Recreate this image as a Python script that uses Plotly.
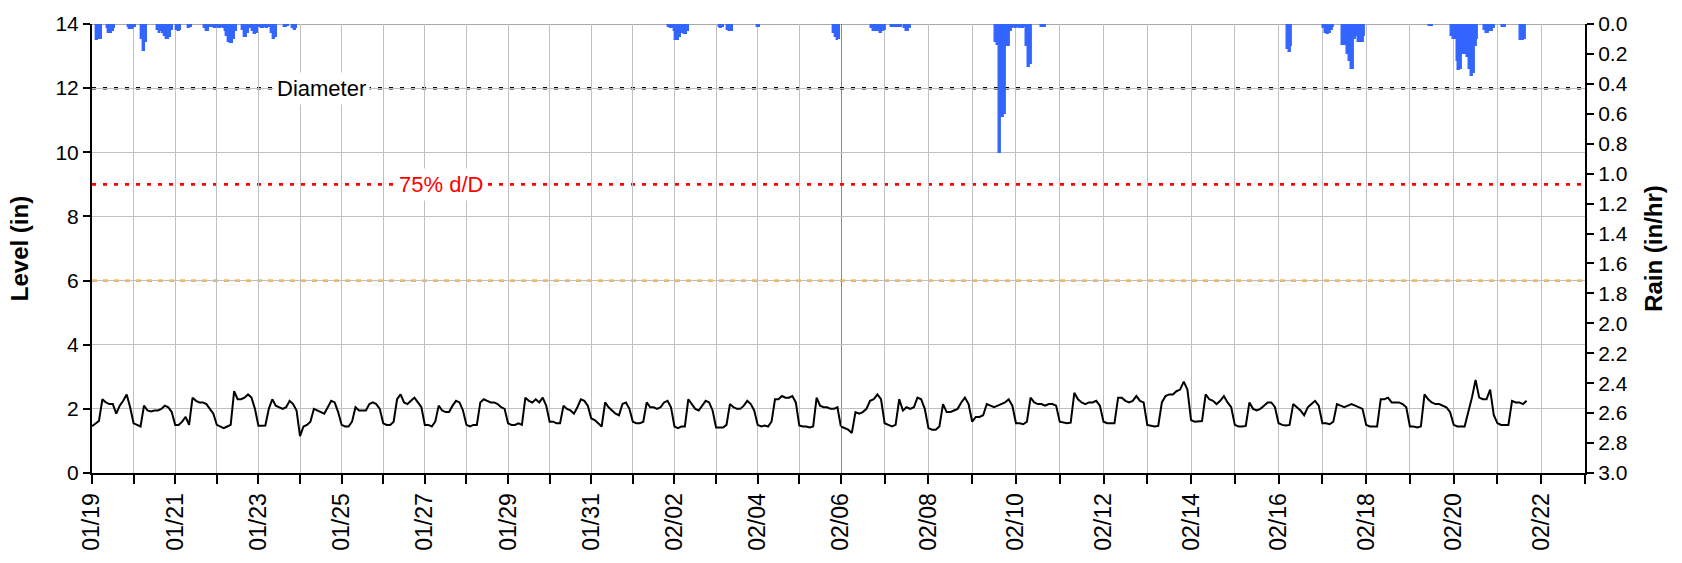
import pandas as pd
import plotly.graph_objects as go

START = "2024-01-19"
SPLIT = "2024-02-06"
END = "2024-02-23"

# Level (in), readings every 2 hours starting 01/19 00:00 (12 per day)
level_in = [
    1.46, 1.55, 1.62, 2.30, 2.20, 2.15, 2.15, 1.85, 2.10, 2.25, 2.45, 2.05,  # 01/19
    1.55, 1.50, 1.45, 2.10, 1.95, 1.92, 1.95, 1.95, 2.00, 2.10, 2.05, 1.90,  # 01/20
    1.50, 1.50, 1.60, 1.75, 1.50, 2.35, 2.25, 2.20, 2.20, 2.15, 2.00, 1.85,  # 01/21
    1.50, 1.45, 1.40, 1.45, 1.50, 2.55, 2.30, 2.30, 2.35, 2.45, 2.35, 2.00,  # 01/22
    1.47, 1.47, 1.48, 2.00, 2.30, 2.10, 2.05, 2.00, 2.05, 2.25, 2.15, 1.95,  # 01/23
    1.15, 1.45, 1.50, 1.60, 2.00, 1.95, 1.90, 1.85, 2.05, 2.25, 2.20, 1.90,  # 01/24
    1.50, 1.45, 1.45, 1.60, 2.05, 1.95, 1.95, 1.95, 2.15, 2.20, 2.15, 2.00,  # 01/25
    1.55, 1.50, 1.50, 1.60, 2.30, 2.45, 2.20, 2.15, 2.25, 2.35, 2.20, 2.05,  # 01/26
    1.50, 1.50, 1.45, 1.60, 2.10, 1.95, 1.90, 1.90, 2.10, 2.25, 2.20, 1.95,  # 01/27
    1.50, 1.45, 1.50, 1.50, 2.20, 2.30, 2.25, 2.20, 2.20, 2.15, 2.05, 2.00,  # 01/28
    1.55, 1.50, 1.50, 1.55, 1.50, 2.35, 2.25, 2.20, 2.30, 2.20, 2.35, 2.10,  # 01/29
    1.60, 1.60, 1.55, 1.55, 2.10, 2.00, 1.95, 1.85, 2.05, 2.30, 2.25, 2.10,  # 01/30
    1.70, 1.65, 1.55, 1.45, 2.20, 2.05, 1.95, 1.85, 1.80, 2.15, 2.20, 2.00,  # 01/31
    1.60, 1.55, 1.55, 1.60, 2.20, 2.05, 2.05, 2.00, 2.05, 2.20, 2.25, 2.05,  # 02/01
    1.45, 1.40, 1.45, 1.45, 2.30, 2.15, 2.00, 1.95, 2.10, 2.25, 2.20, 1.95,  # 02/02
    1.42, 1.42, 1.42, 1.50, 2.15, 2.05, 2.00, 2.00, 2.10, 2.25, 2.15, 1.95,  # 02/03
    1.50, 1.45, 1.48, 1.45, 1.60, 2.30, 2.30, 2.40, 2.35, 2.35, 2.40, 2.20,  # 02/04
    1.48, 1.45, 1.45, 1.42, 1.45, 2.35, 2.10, 2.05, 2.05, 2.00, 2.00, 2.05,  # 02/05
    1.45, 1.40, 1.35, 1.25, 1.90, 1.85, 1.90, 2.00, 2.25, 2.30, 2.45, 2.30,  # 02/06
    1.55, 1.50, 1.45, 1.50, 2.30, 1.95, 2.05, 2.00, 2.05, 2.35, 2.30, 2.00,  # 02/07
    1.40, 1.35, 1.35, 1.45, 2.15, 1.90, 1.90, 1.95, 2.00, 2.20, 2.35, 2.15,  # 02/08
    1.60, 1.75, 1.75, 1.80, 2.15, 2.10, 2.05, 2.10, 2.15, 2.20, 2.30, 2.10,  # 02/09
    1.55, 1.55, 1.52, 1.60, 2.35, 2.20, 2.15, 2.15, 2.10, 2.15, 2.15, 2.10,  # 02/10
    1.60, 1.58, 1.55, 1.57, 2.50, 2.30, 2.20, 2.15, 2.20, 2.20, 2.25, 2.10,  # 02/11
    1.60, 1.55, 1.55, 1.55, 2.35, 2.35, 2.25, 2.20, 2.25, 2.40, 2.25, 2.20,  # 02/12
    1.50, 1.47, 1.45, 1.47, 2.20, 2.40, 2.45, 2.45, 2.55, 2.60, 2.85, 2.60,  # 02/13
    1.65, 1.60, 1.60, 1.62, 2.45, 2.30, 2.25, 2.15, 2.25, 2.40, 2.20, 2.05,  # 02/14
    1.50, 1.45, 1.45, 1.47, 2.20, 2.00, 1.95, 2.00, 2.10, 2.20, 2.20, 2.05,  # 02/15
    1.55, 1.50, 1.48, 1.50, 2.15, 2.05, 1.95, 1.80, 2.05, 2.15, 2.25, 2.10,  # 02/16
    1.55, 1.55, 1.52, 1.60, 2.15, 2.10, 2.05, 2.10, 2.15, 2.10, 2.05, 2.00,  # 02/17
    1.50, 1.45, 1.45, 1.45, 2.30, 2.30, 2.35, 2.20, 2.20, 2.20, 2.15, 2.05,  # 02/18
    1.45, 1.45, 1.42, 1.45, 2.45, 2.30, 2.20, 2.15, 2.15, 2.10, 2.05, 1.90,  # 02/19
    1.50, 1.45, 1.45, 1.45, 1.90, 2.35, 2.90, 2.35, 2.30, 2.30, 2.60, 1.80,  # 02/20
    1.55, 1.50, 1.50, 1.50, 2.25, 2.20, 2.20, 2.15, 2.25,                    # 02/21
]

# Rain (in/hr), hourly, hours counted from 01/19 00:00
rain_hours = [
    3, 4, 5, 9, 10, 11, 12, 13, 21, 22, 23, 24, 25, 29, 30, 31,
    38, 39, 40, 41, 42, 43, 44, 45, 46, 49, 50, 51, 56, 57,
    65, 66, 67, 68, 70, 71, 72, 73, 74, 75, 76, 77,
    78, 79, 80, 81, 82, 83, 87, 88, 89, 90, 91, 93, 94, 95,
    97, 98, 99, 100, 101, 102, 104, 105, 106, 111, 112, 113, 116, 117, 118,
    333, 334, 335, 336, 337, 338, 339, 340, 341, 342, 343, 344,
    362, 363, 364, 367, 368, 369, 384, 385, 428, 429, 430, 431,
    449, 450, 451, 452, 453, 454, 455, 456, 460, 461, 462, 463, 464, 465,
    467, 468, 469, 470,
    517, 518, 519, 520, 521, 522, 523, 524, 525, 526, 527, 528, 529, 530,
    531, 532, 533, 534, 535, 536, 542, 543, 544,
    677, 678, 679, 697, 698, 699, 700, 701, 702,
    707, 708, 709, 710, 711, 712, 713, 714, 715, 716, 717, 718, 719,
    755, 756,
    767, 768, 769, 770, 771, 772, 773, 774, 775, 776, 777, 778, 779, 780, 781,
    785, 786, 787, 788, 789, 790, 795, 796, 805, 806, 807,
]
rain_in_hr = [
    0.11, 0.10, 0.10, 0.03, 0.06, 0.06, 0.05, 0.03, 0.02, 0.035, 0.035, 0.03, 0.02, 0.10, 0.18, 0.12,
    0.04, 0.06, 0.05, 0.06, 0.08, 0.10, 0.10, 0.09, 0.04, 0.04, 0.05, 0.04, 0.03, 0.02,
    0.03, 0.05, 0.05, 0.02, 0.02, 0.03, 0.02, 0.03, 0.03, 0.02, 0.03, 0.05,
    0.08, 0.12, 0.13, 0.13, 0.10, 0.05, 0.04, 0.09, 0.09, 0.06, 0.03, 0.05, 0.07, 0.06,
    0.02, 0.03, 0.03, 0.02, 0.03, 0.02, 0.06, 0.10, 0.09, 0.02, 0.02, 0.01, 0.03, 0.04, 0.03,
    0.02, 0.03, 0.03, 0.05, 0.11, 0.11, 0.09, 0.03, 0.06, 0.07, 0.07, 0.05,
    0.02, 0.025, 0.02, 0.04, 0.05, 0.05, 0.02, 0.02, 0.06, 0.09, 0.11, 0.10,
    0.03, 0.05, 0.05, 0.04, 0.05, 0.06, 0.05, 0.04, 0.02, 0.02, 0.02, 0.02, 0.02, 0.02,
    0.03, 0.05, 0.05, 0.03,
    0.12, 0.14, 0.86, 0.62, 0.62, 0.60, 0.15, 0.15, 0.05, 0.03, 0.02, 0.03, 0.02, 0.03,
    0.02, 0.03, 0.02, 0.15, 0.29, 0.27, 0.02, 0.02, 0.02,
    0.17, 0.19, 0.15, 0.03, 0.06, 0.07, 0.06, 0.04, 0.02,
    0.14, 0.14, 0.14, 0.20, 0.25, 0.30, 0.30, 0.10, 0.08, 0.12, 0.12, 0.12, 0.08,
    0.015, 0.015,
    0.08, 0.10, 0.10, 0.25, 0.31, 0.30, 0.20, 0.20, 0.20, 0.22, 0.30, 0.35, 0.33, 0.15, 0.10,
    0.04, 0.06, 0.06, 0.05, 0.05, 0.03, 0.02, 0.02, 0.11, 0.11, 0.10,
]

ref_names = ["Diameter", "75% d/D", ""]
ref_levels = [12, 9, 6]
ref_colors = ["black", "#ff0000", "#ff9900"]

# ---------------------------------------------------------------------------
t0 = pd.Timestamp(START)
split = pd.Timestamp(SPLIT)
level_times = pd.date_range(t0, periods=len(level_in), freq="2h")
lev = pd.Series(level_in, index=level_times)
rain_times = t0 + pd.to_timedelta(rain_hours, unit="h")
rain = pd.Series(rain_in_hr, index=rain_times)

FONT = "Liberation Sans, Arial, sans-serif"
GRID = "#c0c0c0"
RAIN_COLOR = "#3366ff"
f = 0.5016  # share of plot width holding 01/19 - 02/06

fig = go.Figure()
for xa, part_l, part_r in [("x", lev[lev.index <= split], rain[rain.index < split]),
                           ("x2", lev[lev.index >= split], rain[rain.index >= split])]:
    fig.add_trace(go.Bar(x=part_r.index, y=part_r.values, xaxis=xa, yaxis="y2",
                         width=3600000, marker=dict(color=RAIN_COLOR,
                         line=dict(color=RAIN_COLOR, width=1.4)), hoverinfo="x+y"))
    fig.add_trace(go.Scatter(x=part_l.index, y=part_l.values, xaxis=xa, yaxis="y",
                             mode="lines", line=dict(color="black", width=2)))

days = pd.date_range(START, END, freq="D")
def ticks(lo, hi):
    vals, txt = [], []
    for i, d in enumerate(days):
        if lo <= d <= hi:
            vals.append(d)
            txt.append(d.strftime("%m/%d") if i % 2 == 0 else "")
    return vals, txt

tv1, tt1 = ticks(t0, split)
tv2, tt2 = ticks(split + pd.Timedelta(days=1), pd.Timestamp(END))

xcommon = dict(type="date", tickangle=-90, showgrid=True, gridcolor=GRID, gridwidth=1.3,
               showline=True, linecolor="black", linewidth=2, ticks="outside", ticklen=9,
               tickwidth=1.5, tickcolor="black", tickfont=dict(size=23), zeroline=False,
               anchor="y")

fig.update_layout(
    width=1682, height=563,
    margin=dict(l=92, r=97, t=18, b=90),
    paper_bgcolor="white", plot_bgcolor="white",
    showlegend=False, bargap=0,
    font=dict(family=FONT, size=21, color="black"),
    xaxis=dict(domain=[0, f], range=[t0, split], tickvals=tv1, ticktext=tt1, **xcommon),
    xaxis2=dict(domain=[f, 1], range=[split, pd.Timestamp(END)], tickvals=tv2, ticktext=tt2, **xcommon),
    yaxis=dict(range=[0, 14], dtick=2, showgrid=True, gridcolor=GRID, gridwidth=1.3,
               showline=True, linecolor="black", linewidth=2, ticks="outside", ticklen=7,
               tickwidth=1.5, tickcolor="black", zeroline=False, anchor="x",
               title=dict(text="<b>Level (in)</b>", font=dict(size=24), standoff=20)),
    yaxis2=dict(range=[3.0, 0.0], dtick=0.2, tickformat=".1f", side="right", overlaying="y",
                anchor="x2", showgrid=False, showline=True, linecolor="black", linewidth=2,
                ticks="outside", ticklen=7, tickwidth=1.5, tickcolor="black", zeroline=False,
                title=dict(text="<b>Rain (in/hr)</b>", font=dict(size=24), standoff=18)),
)

shapes = [
    dict(type="line", xref="paper", x0=0, x1=1, yref="y", y0=14, y1=14,
         line=dict(color="#8c8c8c", width=1.5), layer="below"),
    dict(type="line", xref="x2", x0=split, x1=split, yref="paper", y0=0, y1=1,
         line=dict(color="#7a7a7a", width=2), layer="below"),
]
dashes = ["4px,7px", "4px,7px", "5px,6px"]
widths = [2.5, 2.8, 2.3]
for lvl, col, dsh, w in zip(ref_levels, ref_colors, dashes, widths):
    shapes.append(dict(type="line", xref="paper", x0=0, x1=1, yref="y", y0=lvl, y1=lvl,
                       line=dict(color=col, width=w, dash=dsh), layer="below"))
fig.update_layout(shapes=shapes)

label_x = [0.1209, 0.2031]
for name, lvl, col, lx in zip(ref_names[:2], ref_levels[:2], ref_colors[:2], label_x):
    fig.add_annotation(x=lx, xref="paper", y=lvl, yref="y", text=name, showarrow=False,
                       font=dict(size=22, color=col, family=FONT), bgcolor="white", borderpad=3)

fig.write_html("out.html", config={"displayModeBar": False},
               post_script="document.body.style.margin='0';")
